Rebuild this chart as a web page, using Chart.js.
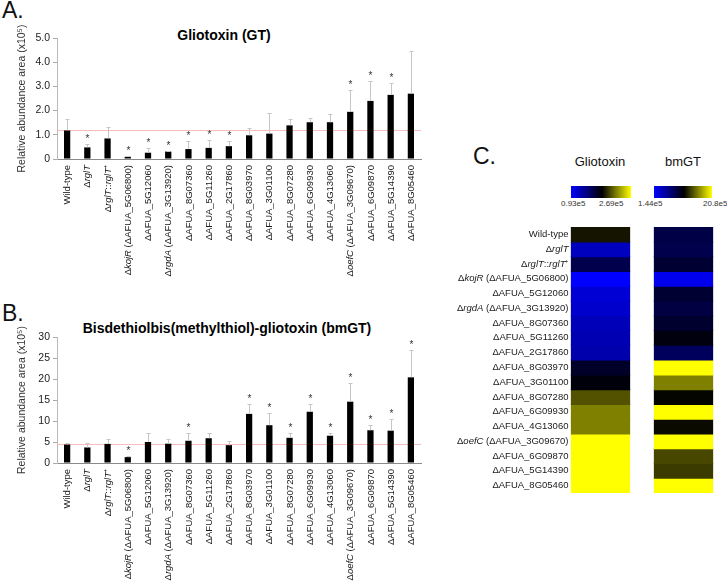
<!DOCTYPE html>
<html>
<head>
<meta charset="utf-8">
<script src="https://cdn.jsdelivr.net/npm/chart.js@4.4.0/dist/chart.umd.min.js"></script>
<style>
  body { margin: 0; background: #fff; font-family: 'Liberation Sans', Arial, sans-serif; }
  #wrap { position: relative; width: 727px; height: 586px; overflow: hidden; }
  .abs { position: absolute; white-space: nowrap; }
  .panel { font-size: 23px; color: #111; line-height: 24px; }
  .ttl { font-size: 14px; font-weight: bold; color: #000; line-height: 16px; text-align: center; }
  .htl { font-size: 13px; color: #111; line-height: 14px; text-align: center; width: 80px; }
  .cbar { height: 12px; background: linear-gradient(to right, #0000ff, #000 52%, #ffff00); }
  .cl { font-size: 8px; color: #333; line-height: 10px; }
  canvas { position: absolute; }
</style>
</head>
<body>
<div id="wrap">
  <div class="abs panel" style="left:2px;top:-2px;">A.</div>
  <div class="abs panel" style="left:2px;top:301px;">B.</div>
  <div class="abs panel" style="left:473px;top:144px;">C.</div>

  <div class="abs ttl" style="left:124px;top:27px;width:200px;">Gliotoxin (GT)</div>
  <div class="abs ttl" style="left:27px;top:320px;width:400px;">Bisdethiolbis(methylthiol)-gliotoxin (bmGT)</div>

  <div class="abs htl" style="left:560px;top:155px;">Gliotoxin</div>
  <div class="abs htl" style="left:643px;top:155px;">bmGT</div>
  <div class="abs cbar" style="left:571px;top:186px;width:60px;"></div>
  <div class="abs cbar" style="left:654px;top:186px;width:58px;"></div>
  <div class="abs cl" style="left:561px;top:199px;">0.93e5</div>
  <div class="abs cl" style="left:599px;top:199px;">2.69e5</div>
  <div class="abs cl" style="left:638px;top:199px;">1.44e5</div>
  <div class="abs cl" style="left:703px;top:199px;">20.8e5</div>

  <canvas id="chartA" width="440" height="300" style="left:0;top:0;"></canvas>
  <canvas id="chartB" width="440" height="286" style="left:0;top:300px;"></canvas>
  <canvas id="heat" width="287" height="290" style="left:440px;top:215px;"></canvas>
</div>

<script>
// --- data ---
// *...* marks italic parts of a label
const strains = [
  'Wild-type', 'Δ*rglT*', 'Δ*rglT*::*rglT*⁺', 'Δ*kojR* (ΔAFUA_5G06800)', 'ΔAFUA_5G12060',
  'Δ*rgdA* (ΔAFUA_3G13920)', 'ΔAFUA_8G07360', 'ΔAFUA_5G11260', 'ΔAFUA_2G17860', 'ΔAFUA_8G03970',
  'ΔAFUA_3G01100', 'ΔAFUA_8G07280', 'ΔAFUA_6G09930', 'ΔAFUA_4G13060', 'Δ*oefC* (ΔAFUA_3G09670)',
  'ΔAFUA_6G09870', 'ΔAFUA_5G14390', 'ΔAFUA_8G05460'
];

// Gliotoxin, relative abundance area (x10^5)
const gtMean = [1.18, 0.48, 0.85, 0.09, 0.26, 0.31, 0.41, 0.46, 0.53, 0.98, 1.05, 1.39, 1.52, 1.52, 1.95, 2.40, 2.65, 2.70];
const gtSd   = [0.48, 0.15, 0.46, 0.04, 0.18, 0.04, 0.32, 0.34, 0.20, 0.29, 0.85, 0.27, 0.19, 0.36, 0.90, 0.84, 0.51, 1.77];
const gtSig  = [0, 1, 0, 1, 1, 1, 1, 1, 1, 0, 0, 0, 0, 0, 1, 1, 1, 0];
const gtRef  = 1.2;
const gtTicks = { max: 5, step: 0.5 };

// bmGT, relative abundance area (x10^5)
const bmMean = [4.4, 3.7, 4.55, 1.4, 5.0, 4.6, 5.3, 5.9, 4.25, 11.7, 9.0, 6.0, 12.2, 6.5, 14.6, 7.8, 7.7, 20.4];
const bmSd   = [0.4, 1.15, 1.05, 0.3, 2.2, 1.0, 1.8, 1.2, 0.9, 2.4, 2.9, 1.2, 1.9, 0.7, 4.4, 1.2, 2.7, 6.5];
const bmSig  = [0, 0, 0, 1, 0, 0, 1, 0, 0, 1, 1, 1, 1, 1, 1, 1, 1, 1];
const bmRef  = 4.5;
const bmTicks = { max: 30, step: 5 };

// heatmap cells, scaled -1 (blue) .. 0 (black) .. 1 (yellow)
const heatCols = ['Gliotoxin', 'bmGT'];
const gtHeat = [0.08, -0.75, -0.3, -1, -0.83, -0.8, -0.72, -0.7, -0.68, -0.16, -0.04, 0.32, 0.5, 0.5, 1, 1, 1, 1];
const bmHeat = [-0.28, -0.3, -0.2, -0.93, -0.2, -0.26, -0.18, -0.06, -0.36, 1, 0.5, 0.02, 1, 0.04, 1, 0.28, 0.23, 1];

const FONT = "'Liberation Sans', Arial, sans-serif";

// draw label with *italic* segments, right aligned at x
function drawRich(ctx, text, x, y, size) {
  const parts = text.split('*');
  let total = 0;
  parts.forEach((p, k) => {
    ctx.font = (k % 2 ? 'italic ' : '') + size + 'px ' + FONT;
    total += ctx.measureText(p).width;
  });
  let cx = x - total;
  parts.forEach((p, k) => {
    ctx.font = (k % 2 ? 'italic ' : '') + size + 'px ' + FONT;
    ctx.fillText(p, cx, y);
    cx += ctx.measureText(p).width;
  });
}

function heatColor(v) {
  const c = Math.round(255 * Math.min(1, Math.abs(v)));
  return v < 0 ? `rgb(0,0,${c})` : `rgb(${c},${c},0)`;
}

function makeBarChart(id, means, sds, sig, ref, ticks, pad) {
  const extras = {
    id: 'extras',
    beforeDatasetsDraw(chart) {
      const { ctx, chartArea, scales: { y } } = chart;
      const ry = Math.round(y.getPixelForValue(ref)) + 0.5;
      ctx.save();
      ctx.strokeStyle = '#f8bcbc';
      ctx.lineWidth = 1;
      ctx.beginPath();
      ctx.moveTo(chartArea.left, ry);
      ctx.lineTo(chartArea.right, ry);
      ctx.stroke();
      ctx.restore();
    },
    afterDatasetsDraw(chart) {
      const { ctx, chartArea, scales: { x, y } } = chart;
      const meta = chart.getDatasetMeta(0);
      ctx.save();
      meta.data.forEach((bar, i) => {
        const px = Math.round(bar.x) + 0.5;
        const top = Math.round(y.getPixelForValue(means[i] + sds[i])) + 0.5;
        ctx.strokeStyle = '#c6c6c6';
        ctx.lineWidth = 1;
        ctx.beginPath();
        ctx.moveTo(px, bar.y);
        ctx.lineTo(px, top);
        ctx.moveTo(px - 2, top);
        ctx.lineTo(px + 2, top);
        ctx.stroke();
        if (sig[i]) {
          ctx.fillStyle = '#333';
          ctx.font = '10px ' + FONT;
          ctx.textAlign = 'center';
          ctx.textBaseline = 'alphabetic';
          ctx.fillText('*', px, top - 3);
        }
      });
      // rotated category labels
      ctx.fillStyle = '#1a1a1a';
      ctx.textAlign = 'left';
      ctx.textBaseline = 'middle';
      strains.forEach((s, i) => {
        ctx.save();
        ctx.translate(x.getPixelForValue(i) + 0.5, chartArea.bottom + 6);
        ctx.rotate(-Math.PI / 2);
        drawRich(ctx, s, 0, 0, 9.5);
        ctx.restore();
      });
      ctx.restore();
    }
  };

  return new Chart(document.getElementById(id), {
    type: 'bar',
    data: {
      labels: strains,
      datasets: [{ data: means, backgroundColor: '#000', barPercentage: 0.31, categoryPercentage: 1 }]
    },
    options: {
      responsive: false,
      animation: false,
      layout: { padding: pad },
      plugins: { legend: { display: false }, tooltip: { enabled: false } },
      scales: {
        x: {
          grid: { display: false },
          border: { color: '#8a8a8a' },
          ticks: { display: false }
        },
        y: {
          min: 0, max: ticks.max,
          afterFit: (s) => { s.width = 41; },
          ticks: {
            stepSize: ticks.step, color: '#222', padding: 3,
            font: { family: FONT, size: 10.5 },
            callback: (v) => v === 0 ? '0' : (ticks.step < 1 ? v.toFixed(1) : v)
          },
          grid: { drawOnChartArea: false, tickLength: 4, color: '#aaa' },
          border: { color: '#bbb' },
          title: {
            display: true, text: 'Relative abundance area (x10⁵)', color: '#333', padding: 0,
            font: { family: FONT, size: 10.5 }
          }
        }
      }
    },
    plugins: [extras]
  });
}

makeBarChart('chartA', gtMean, gtSd, gtSig, gtRef, gtTicks, { left: 16, right: 19, top: 38, bottom: 133 });
makeBarChart('chartB', bmMean, bmSd, bmSig, bmRef, bmTicks, { left: 16, right: 19, top: 37, bottom: 115 });

// --- heatmap (panel C) ---
const rowLabels = {
  id: 'rowLabels',
  afterDatasetsDraw(chart) {
    const { ctx, scales: { y } } = chart;
    const cell = chart.getDatasetMeta(0).data[0];
    const right = cell.x - cell.width / 2 - 3;
    ctx.save();
    ctx.fillStyle = '#1a1a1a';
    ctx.textAlign = 'left';
    ctx.textBaseline = 'middle';
    strains.forEach((s, i) => drawRich(ctx, s, right, y.getPixelForValue(i + 0.5), 9.5));
    ctx.restore();
  }
};

new Chart(document.getElementById('heat'), {
  type: 'bar',
  data: {
    labels: heatCols,
    datasets: strains.map((s, i) => ({
      label: s,
      data: [1, 1],
      backgroundColor: [heatColor(gtHeat[i]), heatColor(bmHeat[i])],
      borderWidth: 0,
      inflateAmount: 0.6,
      barPercentage: 0.7,
      categoryPercentage: 1
    }))
  },
  options: {
    responsive: false,
    animation: false,
    layout: { padding: { left: 119, right: 2, top: 12, bottom: 12 } },
    plugins: { legend: { display: false }, tooltip: { enabled: false } },
    scales: {
      x: { display: false, stacked: true },
      y: { display: false, stacked: true, min: 0, max: strains.length, reverse: true }
    }
  },
  plugins: [rowLabels]
});
</script>
</body>
</html>
